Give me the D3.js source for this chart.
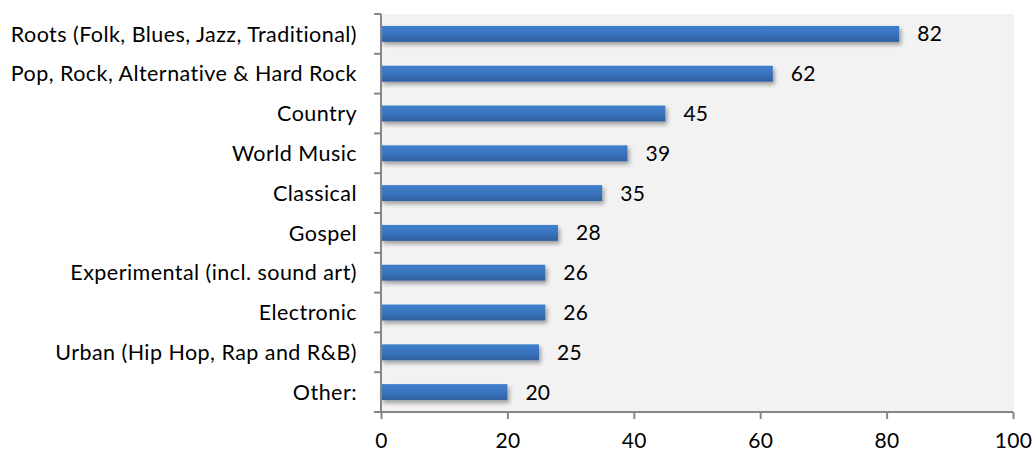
<!DOCTYPE html>
<html><head><meta charset="utf-8">
<script src="https://cdn.jsdelivr.net/npm/d3@7"></script>
<style>body{margin:0;background:#fff;} text{font-family:Lato,"Open Sans",sans-serif;fill:#000;}</style>
</head><body><svg id="c" width="1034" height="453"></svg>
<script>
const categories = ["Roots (Folk, Blues, Jazz, Traditional)","Pop, Rock, Alternative & Hard Rock","Country","World Music","Classical","Gospel","Experimental (incl. sound art)","Electronic","Urban (Hip Hop, Rap and R&B)","Other:"];
const values = [82,62,45,39,35,28,26,26,25,20];
const xTicks = [0,20,40,60,80,100];

const svg = d3.select("#c");
const L=381, R=1013, T=14, B=412;
const x = d3.scaleLinear().domain([0,100]).range([L,R]);
const y = d3.scaleBand().domain(categories).range([T,B]).paddingInner(0.6).paddingOuter(0.3);

const defs = svg.append("defs");
const g = defs.append("linearGradient").attr("id","bg").attr("x1",0).attr("y1",0).attr("x2",0).attr("y2",1);
g.append("stop").attr("offset","0%").attr("stop-color","#3f7fcc");
g.append("stop").attr("offset","50%").attr("stop-color","#3a74be");
g.append("stop").attr("offset","100%").attr("stop-color","#2f5f9f");
const f = defs.append("filter").attr("id","sh").attr("x","-5%").attr("y","-20%").attr("width","115%").attr("height","200%");
f.append("feDropShadow").attr("dx",2).attr("dy",3).attr("stdDeviation",2).attr("flood-color","#000").attr("flood-opacity",0.35);

svg.append("rect").attr("x",L).attr("y",T).attr("width",R-L+1).attr("height",B-T).attr("fill","#f2f2f2");

svg.append("g").selectAll("rect").data(values).join("rect")
  .attr("x",x(0)).attr("y",(d,i)=>y(categories[i]))
  .attr("width",d=>x(d)-x(0)).attr("height",y.bandwidth())
  .attr("fill","url(#bg)").attr("filter","url(#sh)");

svg.append("g").selectAll("text").data(values).join("text")
  .attr("x",d=>x(d)+18).attr("y",(d,i)=>y(categories[i])+y.bandwidth()/2)
  .attr("dy","0.36em").attr("font-size",21).attr("letter-spacing",0.3).text(d=>d);

// y axis
const yAxis = svg.append("g").attr("transform",`translate(${L},0)`);
yAxis.append("line").attr("x1",0).attr("x2",0).attr("y1",T).attr("y2",B).attr("stroke","#868686").attr("stroke-width",2);
const step = (B-T)/categories.length;
yAxis.selectAll("line.t").data(d3.range(categories.length+1)).join("line").attr("class","t")
  .attr("x1",-7).attr("x2",0).attr("y1",i=>T+i*step).attr("y2",i=>T+i*step).attr("stroke","#868686").attr("stroke-width",2);
yAxis.selectAll("text").data(categories).join("text")
  .attr("x",-24).attr("y",d=>y(d)+y.bandwidth()/2).attr("dy","0.36em")
  .attr("text-anchor","end").attr("font-size",21.5).attr("letter-spacing",0.45).text(d=>d);

// x axis
const xa = svg.append("g").attr("transform",`translate(0,${B})`)
  .call(d3.axisBottom(x).tickValues(xTicks).tickSize(7).tickPadding(14).tickFormat(d3.format("d")));
xa.select(".domain").attr("stroke","#868686").attr("stroke-width",2).attr("d",`M${L},0H${R}`);
xa.selectAll(".tick line").attr("stroke","#868686").attr("stroke-width",2);
xa.selectAll(".tick text").attr("font-size",21).attr("letter-spacing",0.3).attr("font-family","Lato,'Open Sans',sans-serif").attr("fill","#000");
</script></body></html>
